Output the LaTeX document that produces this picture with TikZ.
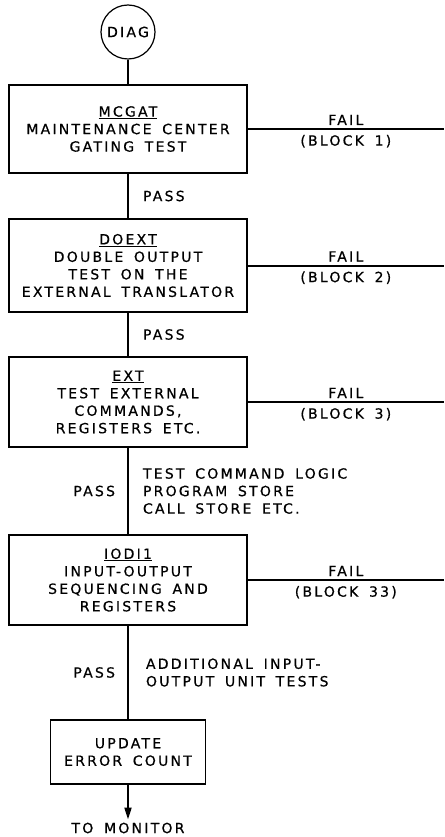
\documentclass[tikz,border=0pt]{standalone}
\usepackage{fontspec}
\setmainfont{DejaVu Sans}[LetterSpace=16, WordSpace=1.6, FakeBold=0.6]
\usetikzlibrary{arrows.meta}

\begin{document}
\begin{tikzpicture}[
  x=1pt, y=-1pt,
  txt/.style   = {font=\fontsize{14}{17.5}\selectfont},
  test/.style  = {txt, draw, line width=1.2pt, minimum width=238pt,
                  inner sep=0pt, align=center},
  start/.style = {txt, draw, circle, line width=1.2pt, minimum size=54pt,
                  inner sep=0pt},
  link/.style  = {line width=2pt},
  tip/.style   = {link, -{Triangle[length=12pt,width=7pt]}},
  lbl/.style   = {txt, inner sep=2pt, align=left},
]
  \useasboundingbox (0,0) rectangle (444,837);

  \node[start] (diag) at (128,32) {DIAG};
  \node[test, minimum height=88pt] (mcgat) at (128,129)
    {\underline{MCGAT}\\MAINTENANCE CENTER\\GATING TEST};
  \node[test, minimum height=93pt] (doext) at (128,265.5)
    {\underline{DOEXT}\\DOUBLE OUTPUT\\TEST ON THE\\EXTERNAL TRANSLATOR};
  \node[test, minimum height=90pt] (ext) at (128,402)
    {\underline{EXT}\\TEST EXTERNAL\\COMMANDS,\\REGISTERS ETC.};
  \node[test, minimum height=90pt] (iodi) at (128,580)
    {\underline{IODI1}\\INPUT-OUTPUT\\SEQUENCING AND\\REGISTERS};
  \node[test, minimum width=155pt, minimum height=64pt] (update) at (128,752)
    {UPDATE\\ERROR COUNT};
  \node[txt, inner sep=3pt] (monitor) at (128,828) {TO MONITOR};

  % fail exits run off the right edge
  \coordinate (fail1) at (444,129);
  \coordinate (fail2) at (444,265.5);
  \coordinate (fail3) at (444,402);
  \coordinate (fail4) at (444,580);

  \draw[link] (diag) -- (mcgat);
  \draw[link] (mcgat) -- node[lbl, right=12pt] {PASS} (doext);
  \draw[link] (doext) -- node[lbl, right=12pt] {PASS} (ext);
  \draw[link] (ext) -- node[lbl, left=10pt] {PASS}
    node[lbl, right=12pt] {TEST COMMAND LOGIC\\PROGRAM STORE\\CALL STORE ETC.} (iodi);
  \draw[link] (iodi) -- node[lbl, left=10pt] {PASS}
    node[lbl, right=15pt] {ADDITIONAL INPUT-\\OUTPUT UNIT TESTS} (update);
  \draw[tip] (update) -- (monitor);

  \draw[link] (mcgat) -- node[lbl, above=1pt] {FAIL} node[lbl, below=3pt] {(BLOCK 1)} (fail1);
  \draw[link] (doext) -- node[lbl, above=1pt] {FAIL} node[lbl, below=3pt] {(BLOCK 2)} (fail2);
  \draw[link] (ext) -- node[lbl, above=1pt] {FAIL} node[lbl, below=3pt] {(BLOCK 3)} (fail3);
  \draw[link] (iodi) -- node[lbl, above=1pt] {FAIL} node[lbl, below=3pt] {(BLOCK 33)} (fail4);
\end{tikzpicture}
\end{document}
